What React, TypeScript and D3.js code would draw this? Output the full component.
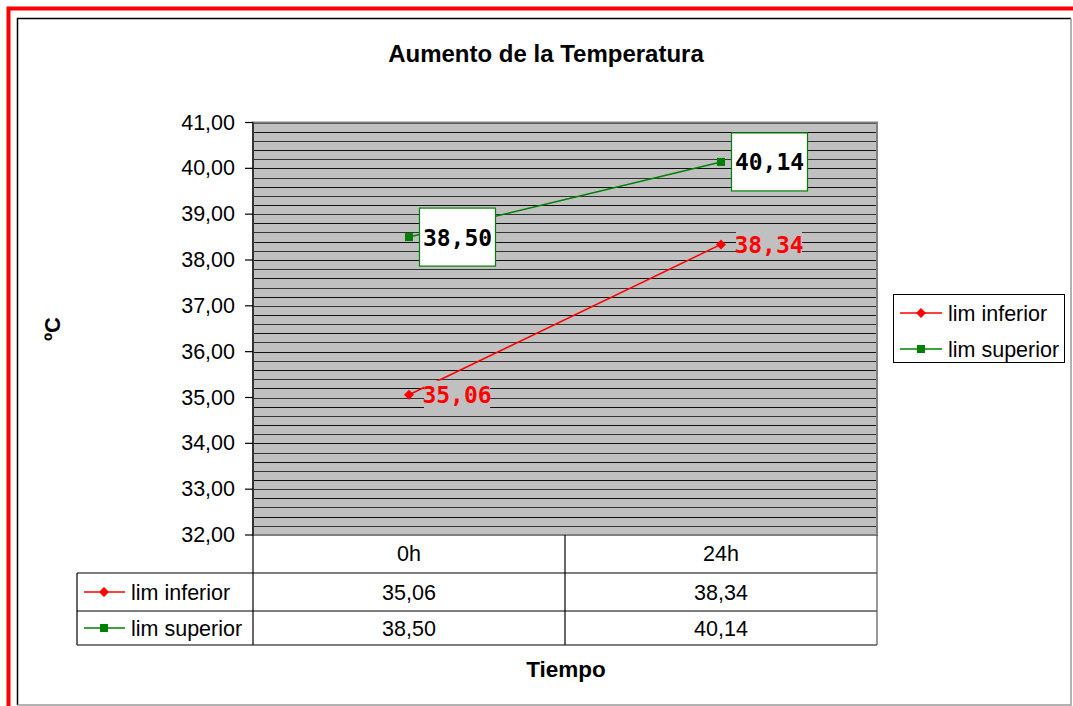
import React from "react";
import * as d3 from "d3";

const title = "Aumento de la Temperatura";
const categories = ["0h", "24h"];
const seriesNames = ["lim inferior", "lim superior"];
const limInferior = [35.06, 38.34];
const limSuperior = [38.5, 40.14];
const yDomain = [32, 41];
const yAxisTitle = "ºC";
const xAxisTitle = "Tiempo";

const RED = "#FF0000";
const GREEN = "#008000";
const FONT = "Arial, 'Liberation Sans', sans-serif";
const MONO = "'DejaVu Sans Mono', monospace";

const locale = d3.formatLocale({ decimal: ",", thousands: ".", grouping: [3], currency: ["", ""] });
const fmt = locale.format(".2f");

export default function App() {
  const W = 1073, H = 706;
  const plot = { l: 253, r: 877, t: 122.5, b: 535 };
  const y = d3.scaleLinear().domain(yDomain).range([plot.b, plot.t]);
  const x = d3.scaleBand().domain(categories).range([plot.l, plot.r]);
  const cx = (c: string) => (x(c) as number) + x.bandwidth() / 2;
  const majorTicks = y.ticks(9);
  const minorTicks = d3.range(yDomain[0], yDomain[1] + 0.001, 0.2);
  const line = d3.line<number>().x((_, i) => cx(categories[i])).y((v) => y(v));

  const series = [
    { name: seriesNames[0], values: limInferior, color: RED, marker: "diamond" },
    { name: seriesNames[1], values: limSuperior, color: GREEN, marker: "square" },
  ];

  const marker = (m: string, color: string, px: number, py: number, key?: any) =>
    m === "diamond" ? (
      <path key={key} d={`M${px},${py - 5}L${px + 5},${py}L${px},${py + 5}L${px - 5},${py}Z`} fill={color} />
    ) : (
      <rect key={key} x={px - 4} y={py - 4} width={8} height={8} fill={color} />
    );

  const tableRows = [573, 611, 645];
  const tableLeft = 77;

  return (
    <svg width={W} height={H} style={{ position: "absolute", left: 0, top: 0, background: "#fff" }}>
      {/* outer borders */}
      <path d={`M8.5,${H + 5}V8.5H${W + 5}`} fill="none" stroke={RED} strokeWidth={4} />
      <path d={`M17.5,${H - 1}V18.5H${W - 2}`} fill="none" stroke="#000" strokeWidth={1.5} />
      <path d={`M${W - 2},18.5V${H - 1}H17.5`} fill="none" stroke="#999" strokeWidth={1.5} />

      {/* title */}
      <text x={546} y={62} textAnchor="middle" fontFamily={FONT} fontWeight="bold" fontSize={24}>
        {title}
      </text>

      {/* plot area */}
      <rect x={plot.l} y={plot.t} width={plot.r - plot.l} height={plot.b - plot.t} fill="#C0C0C0" />
      {minorTicks.map((t, i) => (
        <line key={i} x1={plot.l} x2={plot.r} y1={Math.round(y(t)) + 0.5} y2={Math.round(y(t)) + 0.5} stroke={i % 2 ? "#333" : "#111"} strokeWidth={1.2} />
      ))}
      <rect x={plot.l} y={plot.t} width={plot.r - plot.l} height={plot.b - plot.t} fill="none" stroke="#808080" strokeWidth={2} />

      {/* y axis */}
      <line x1={plot.l} x2={plot.l} y1={plot.t} y2={tableRows[2]} stroke="#000" strokeWidth={1.2} />
      {majorTicks.map((t) => (
        <g key={t}>
          <line x1={plot.l - 8} x2={plot.l} y1={y(t)} y2={y(t)} stroke="#000" strokeWidth={1.2} />
          <text x={235} y={y(t) + 7} textAnchor="end" fontFamily={FONT} fontSize={21.5}>
            {fmt(t)}
          </text>
        </g>
      ))}
      <text transform={`translate(60,329) rotate(-90)`} textAnchor="middle" fontFamily={FONT} fontWeight="bold" fontSize={22}>
        {yAxisTitle}
      </text>

      {/* series lines */}
      {series.map((s) => (
        <path key={s.name} d={line(s.values) as string} fill="none" stroke={s.color} strokeWidth={1.5} />
      ))}
      {series.map((s) => s.values.map((v, i) => marker(s.marker, s.color, cx(categories[i]), y(v), s.name + i)))}

      {/* data labels */}
      {limSuperior.map((v, i) => {
        const px = cx(categories[i]);
        const py = y(v);
        return (
          <g key={"ls" + i}>
            <rect x={px + 10.5} y={py - 29} width={76} height={58} fill="#fff" stroke={GREEN} strokeWidth={1.2} />
            <text x={px + 48.5} y={py + 8.5} textAnchor="middle" fontFamily={MONO} fontWeight="bold" fontSize={23} fill="#000">
              {fmt(v)}
            </text>
          </g>
        );
      })}
      {limInferior.map((v, i) => {
        const px = cx(categories[i]);
        const py = y(v);
        return (
          <g key={"li" + i}>
            <rect x={px + 15} y={py - 14} width={66} height={28} fill="#C0C0C0" />
            <text x={px + 48} y={py + 8.5} textAnchor="middle" fontFamily={MONO} fontWeight="bold" fontSize={23} fill={RED}>
              {fmt(v)}
            </text>
          </g>
        );
      })}

      {/* data table */}
      <g stroke="#000" strokeWidth={1.2}>
        <line x1={plot.l} x2={plot.r} y1={tableRows[0]} y2={tableRows[0]} />
        <line x1={tableLeft} x2={plot.l} y1={tableRows[0]} y2={tableRows[0]} />
        <line x1={tableLeft} x2={plot.r} y1={tableRows[1]} y2={tableRows[1]} />
        <line x1={tableLeft} x2={plot.r} y1={tableRows[2]} y2={tableRows[2]} />
        <line x1={tableLeft} x2={tableLeft} y1={tableRows[0]} y2={tableRows[2]} />
        <line x1={x(categories[1]) as number} x2={x(categories[1]) as number} y1={plot.b} y2={tableRows[2]} />
        <line x1={plot.r} x2={plot.r} y1={plot.b} y2={tableRows[2]} stroke="#555" />
      </g>
      {categories.map((c) => (
        <text key={c} x={cx(c)} y={561} textAnchor="middle" fontFamily={FONT} fontSize={21.5}>
          {c}
        </text>
      ))}
      {series.map((s, r) => {
        const rowMid = (tableRows[r] + tableRows[r + 1]) / 2;
        return (
          <g key={"tr" + r}>
            <line x1={84} x2={125} y1={rowMid} y2={rowMid} stroke={s.color} strokeWidth={1.5} />
            {marker(s.marker, s.color, 104, rowMid)}
            <text x={131} y={rowMid + 8} fontFamily={FONT} fontSize={21.5}>
              {s.name}
            </text>
            {s.values.map((v, i) => (
              <text key={i} x={cx(categories[i])} y={rowMid + 8} textAnchor="middle" fontFamily={FONT} fontSize={21.5}>
                {fmt(v)}
              </text>
            ))}
          </g>
        );
      })}
      <text x={566} y={677} textAnchor="middle" fontFamily={FONT} fontWeight="bold" fontSize={22.5}>
        {xAxisTitle}
      </text>

      {/* legend */}
      <rect x={893.5} y={294.5} width={171} height={68} fill="#fff" stroke="#000" strokeWidth={1} />
      {series.map((s, i) => {
        const ly = 313 + i * 36;
        return (
          <g key={"lg" + i}>
            <line x1={900} x2={942} y1={ly} y2={ly} stroke={s.color} strokeWidth={1.5} />
            {marker(s.marker, s.color, 921, ly)}
            <text x={948} y={ly + 8} fontFamily={FONT} fontSize={21.5}>
              {s.name}
            </text>
          </g>
        );
      })}
    </svg>
  );
}
